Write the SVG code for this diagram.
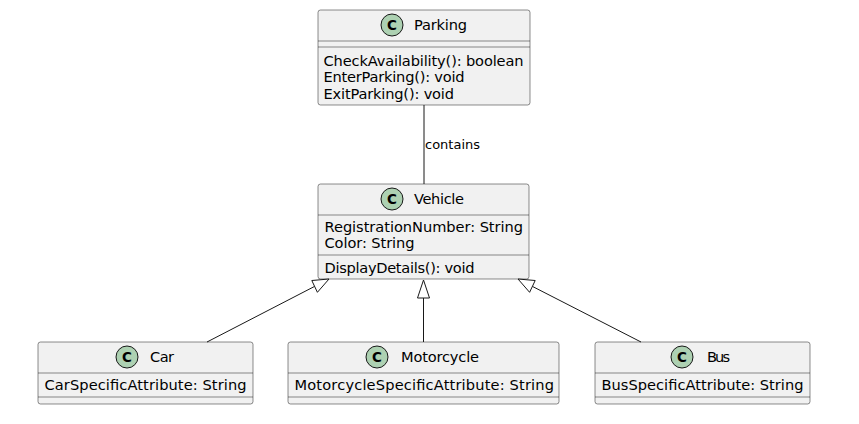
<svg xmlns="http://www.w3.org/2000/svg" width="859" height="424" viewBox="0 0 859 424">
<style>
.box{fill:#F1F1F1;stroke:#181818;stroke-width:0.5}
.sep{stroke:#181818;stroke-width:0.5}
.circ{fill:#ADD1B2;stroke:#181818;stroke-width:1}
.t{font-family:"DejaVu Sans",sans-serif;font-size:14.6px;fill:#000}
.c{font-family:"DejaVu Sans",sans-serif;font-size:13.5px;font-weight:bold;fill:#000;text-anchor:middle}
.lbl{font-family:"DejaVu Sans",sans-serif;font-size:13px;fill:#000}
.ln{stroke:#181818;stroke-width:1;fill:none}
.tri{fill:#FFFFFF;stroke:#181818;stroke-width:1}
</style>
<rect width="859" height="424" fill="#FFFFFF"/>
<g id="Parking">
<rect class="box" x="318" y="10" width="212" height="95" rx="2.5"/>
<ellipse class="circ" cx="392" cy="25" rx="11" ry="11"/>
<text class="c" x="392" y="30">C</text>
<text class="t" x="414" y="30" textLength="53" lengthAdjust="spacing">Parking</text>
<line class="sep" x1="318" y1="41" x2="530" y2="41"/>
<line class="sep" x1="318" y1="47" x2="530" y2="47"/>
<text class="t" x="323.5" y="66" textLength="200" lengthAdjust="spacing">CheckAvailability(): boolean</text>
<text class="t" x="323.5" y="82" textLength="141" lengthAdjust="spacing">EnterParking(): void</text>
<text class="t" x="323.5" y="99" textLength="130.5" lengthAdjust="spacing">ExitParking(): void</text>
</g>
<g id="Vehicle">
<rect class="box" x="318" y="184" width="211" height="95" rx="2.5"/>
<ellipse class="circ" cx="392" cy="199" rx="11" ry="11"/>
<text class="c" x="392" y="204">C</text>
<text class="t" x="414" y="204" textLength="50" lengthAdjust="spacing">Vehicle</text>
<line class="sep" x1="318" y1="215" x2="529" y2="215"/>
<text class="t" x="324.5" y="232" textLength="198.5" lengthAdjust="spacing">RegistrationNumber: String</text>
<text class="t" x="324.5" y="248" textLength="90" lengthAdjust="spacing">Color: String</text>
<line class="sep" x1="318" y1="255" x2="529" y2="255"/>
<text class="t" x="324.5" y="273" textLength="150" lengthAdjust="spacing">DisplayDetails(): void</text>
</g>
<g id="Car">
<rect class="box" x="38" y="342" width="215" height="62" rx="2.5"/>
<ellipse class="circ" cx="127" cy="357" rx="11" ry="11"/>
<text class="c" x="127" y="362">C</text>
<text class="t" x="150" y="362" textLength="24" lengthAdjust="spacing">Car</text>
<line class="sep" x1="38" y1="373" x2="253" y2="373"/>
<text class="t" x="44.5" y="390" textLength="202" lengthAdjust="spacing">CarSpecificAttribute: String</text>
<line class="sep" x1="38" y1="397" x2="253" y2="397"/>
</g>
<g id="Motorcycle">
<rect class="box" x="288" y="342" width="271" height="62" rx="2.5"/>
<ellipse class="circ" cx="377" cy="357" rx="11" ry="11"/>
<text class="c" x="377" y="362">C</text>
<text class="t" x="401" y="362" textLength="78" lengthAdjust="spacing">Motorcycle</text>
<line class="sep" x1="288" y1="373" x2="559" y2="373"/>
<text class="t" x="294.5" y="390" textLength="259.5" lengthAdjust="spacing">MotorcycleSpecificAttribute: String</text>
<line class="sep" x1="288" y1="397" x2="559" y2="397"/>
</g>
<g id="Bus">
<rect class="box" x="595" y="342" width="215" height="62" rx="2.5"/>
<ellipse class="circ" cx="682" cy="357" rx="11" ry="11"/>
<text class="c" x="682" y="362">C</text>
<text class="t" x="707" y="362" textLength="23" lengthAdjust="spacing">Bus</text>
<line class="sep" x1="595" y1="373" x2="810" y2="373"/>
<text class="t" x="601.5" y="390" textLength="202" lengthAdjust="spacing">BusSpecificAttribute: String</text>
<line class="sep" x1="595" y1="397" x2="810" y2="397"/>
</g>
<g id="connectors">
<line class="ln" x1="424" y1="105" x2="424" y2="184"/>
<text class="lbl" x="425" y="149">contains</text>
<line class="ln" x1="207" y1="342" x2="314.6" y2="286.4"/>
<polygon class="tri" points="329,279 317.4,292.3 311.8,280.5"/>
<line class="ln" x1="423.5" y1="342" x2="423.5" y2="297"/>
<polygon class="tri" points="423.5,280 417.5,298 429.5,298"/>
<line class="ln" x1="641" y1="342" x2="532.4" y2="286.4"/>
<polygon class="tri" points="518,279 535.2,280.5 529.6,292.3"/>
</g>
</svg>
